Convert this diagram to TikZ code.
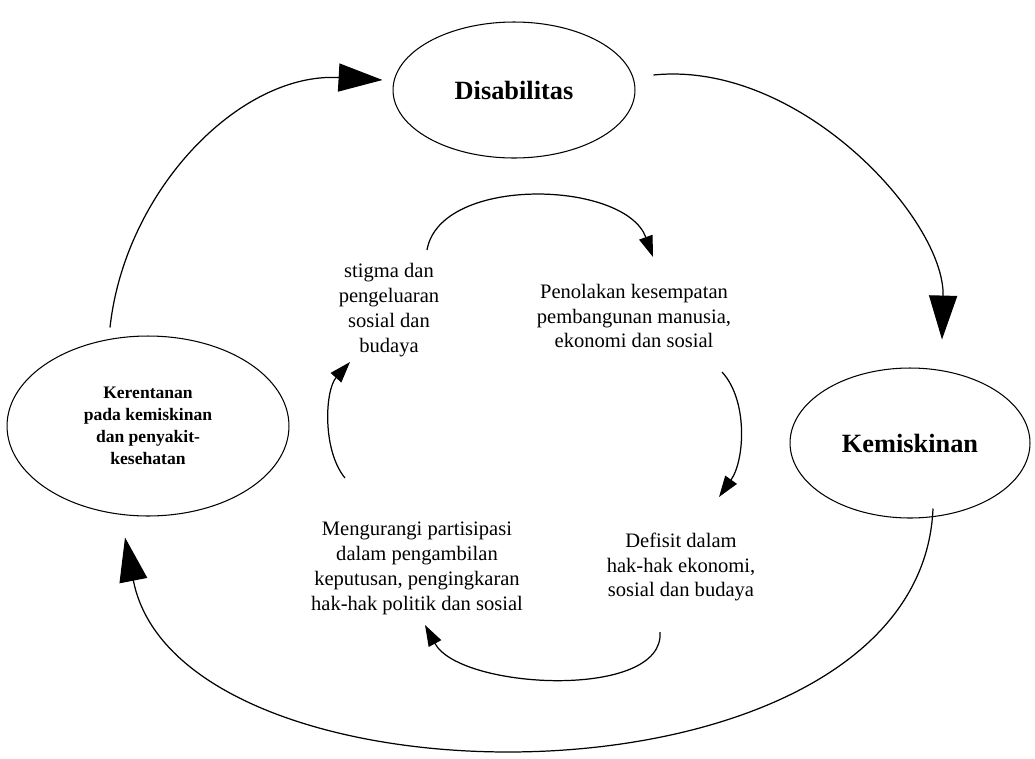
\documentclass[tikz,border=0pt]{standalone}
\usepackage{fontspec}
\setmainfont{Liberation Serif}
\usetikzlibrary{arrows.meta, shapes.geometric}

\begin{document}
\begin{tikzpicture}[x=0.02cm, y=-0.02cm,
    oval/.style={draw, ellipse, line width=0.6pt, inner sep=0pt, font=\fontsize{15}{17}\selectfont\bfseries},
    lbl/.style={align=center, inner sep=0pt, font=\fontsize{11.7}{14.2}\selectfont},
    outer/.style={line width=0.7pt, -{Triangle[length=25pt, width=16pt]}},
    inner/.style={line width=0.7pt, -{Triangle[length=12pt, width=8pt]}}]
    \useasboundingbox (0,0) rectangle (1035,758);
    \node[oval, minimum width=4.84cm, minimum height=2.72cm] (dis) at (514,90) {Disabilitas};
    \node[oval, minimum width=4.8cm, minimum height=3cm] (kem) at (910,443) {Kemiskinan};
    \node[oval, minimum width=5.64cm, minimum height=3.6cm, align=center, font=\fontsize{10}{12.5}\selectfont\bfseries] (ker) at (148,426) {Kerentanan\\pada kemiskinan\\dan penyakit-\\kesehatan};
    \node[lbl] (st) at (389,310) {stigma dan\\pengeluaran\\sosial dan\\budaya};
    \node[lbl] (pen) at (634,316) {Penolakan kesempatan\\pembangunan manusia,\\ekonomi dan sosial};
    \node[lbl] (def) at (681,567) {Defisit dalam\\hak-hak ekonomi,\\sosial dan budaya};
    \node[lbl] (men) at (417,568) {Mengurangi partisipasi\\dalam pengambilan\\keputusan, pengingkaran\\hak-hak politik dan sosial};
    \draw[outer] ([shift={(-38,-8)}]ker.north) .. controls (125,190) and (240,72) .. ([shift={(-10,-10)}]dis.west);
    \draw[outer] ([shift={(18,-15)}]dis.east) .. controls (800,60) and (945,220) .. ([shift={(32,-28)}]kem.north);
    \draw[outer] ([shift={(23,-10)}]kem.south) .. controls (920,820) and (180,820) .. ([shift={(-23,21)}]ker.south);
    \draw[inner] ([shift={(38,-60)}]st.center) .. controls (440,175) and (625,180) .. ([shift={(19,-59)}]pen.center);
    \draw[inner] ([shift={(88,56)}]pen.center) .. controls (748,400) and (745,460) .. ([shift={(38,-70)}]def.center);
    \draw[inner] ([shift={(-21,65)}]def.center) .. controls (665,700) and (460,690) .. ([shift={(8,57)}]men.center);
    \draw[inner] ([shift={(-72,-90)}]men.center) .. controls (322,450) and (325,390) .. ([shift={(-39,52)}]st.center);
\end{tikzpicture}
\end{document}
